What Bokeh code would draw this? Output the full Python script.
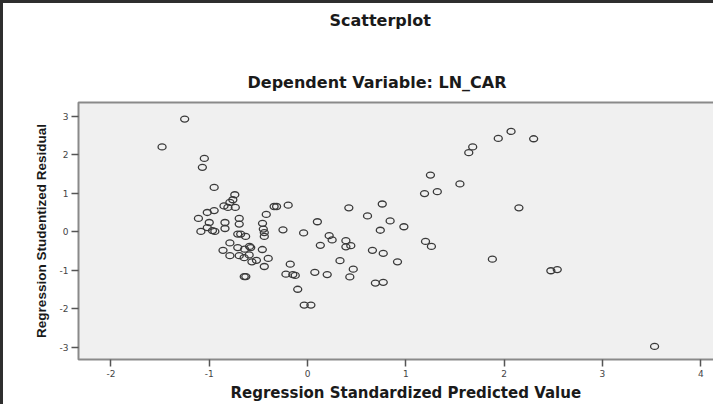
from bokeh.plotting import figure
from bokeh.models import FixedTicker, Range1d, Title
from bokeh.embed import file_html
from bokeh.resources import INLINE

# Regression standardized predicted value (x) and studentized residual (y)
pred = [-1.48, -1.25, -1.05, -1.07, -0.95, -0.74, -0.76, -0.79, -0.85, -0.81,
        -0.735, -0.95, -1.02, -1.11, -1.00, -0.84, -0.695, -0.695, -1.085, -0.967,
        -0.943, -1.02, -0.84, -0.71, -0.68, -0.63, -0.79, -0.86, -0.79, -0.71,
        -0.695, -0.64, -0.59, -0.578, -0.645, -0.594, -0.566, -0.52, -0.46, -0.40,
        -0.44, -0.644, -0.628, -0.458, -0.45, -0.44, -0.44, -0.42, -0.34, -0.315,
        -0.197, -0.25, -0.04, 0.10, -0.176, -0.22, -0.15, -0.125, -0.10, 0.074,
        0.20, 0.13, 0.22, 0.25, 0.39, 0.39, 0.44, 0.42, 0.33, 0.465,
        0.43, 0.61, 0.76, 0.74, 0.84, 0.98, 0.66, 0.77, 0.915, 0.69,
        0.77, 1.25, 1.19, 1.32, 1.20, 1.26, 2.07, 1.94, 2.30, 1.68,
        1.64, 1.55, 2.15, 1.88, 2.475, 2.54, 3.53, -0.034, 0.034]
resid = [2.20, 2.92, 1.90, 1.67, 1.15, 0.96, 0.83, 0.76, 0.67, 0.63,
         0.63, 0.55, 0.50, 0.345, 0.24, 0.24, 0.345, 0.20, 0.01, 0.03,
         0.01, 0.11, 0.085, -0.06, -0.06, -0.12, -0.29, -0.48, -0.62, -0.41,
         -0.62, -0.45, -0.38, -0.41, -0.67, -0.60, -0.78, -0.74, -0.46, -0.69,
         -0.90, -1.16, -1.16, 0.22, 0.07, -0.02, -0.12, 0.45, 0.655, 0.655,
         0.69, 0.05, -0.03, 0.26, -0.84, -1.10, -1.11, -1.13, -1.49, -1.05,
         -1.11, -0.35, -0.10, -0.21, -0.23, -0.39, -0.36, 0.62, -0.75, -0.97,
         -1.17, 0.41, 0.72, 0.04, 0.28, 0.13, -0.48, -0.56, -0.78, -1.33,
         -1.31, 1.47, 0.99, 1.04, -0.25, -0.38, 2.60, 2.42, 2.41, 2.20,
         2.05, 1.24, 0.62, -0.71, -1.01, -0.98, -2.97, -1.90, -1.90]

x_ticks = [-2, -1, 0, 1, 2, 3, 4]
y_ticks = [-3, -2, -1, 0, 1, 2, 3]

title_main = "Scatterplot"
title_sub = "Dependent Variable: LN_CAR"
x_label = "Regression Standardized Predicted Value"
y_label = "Regression Studentized Residual"

p = figure(width=713, height=404, output_backend="svg", toolbar_location=None,
           x_range=Range1d(-2.33, 4.16), y_range=Range1d(-3.31, 3.35),
           min_border_left=75, min_border_top=99, min_border_right=0,
           min_border_bottom=48)
p.styles = {"border-left": "3px solid #2e2e2e", "border-top": "3px solid #2e2e2e"}

p.background_fill_color = "#f0f0f0"
p.border_fill_color = "white"
p.outline_line_color = "#8a8a8a"
p.outline_line_width = 2
p.grid.visible = False

for ax in (p.xaxis[0], p.yaxis[0]):
    ax.axis_line_color = None
    ax.major_tick_out = 7
    ax.major_tick_in = 0
    ax.minor_tick_line_color = None
    ax.major_tick_line_color = "#555555"
    ax.major_tick_line_width = 1.5
    ax.major_label_text_font = "DejaVu Sans"
    ax.major_label_text_font_size = "9px"
    ax.major_label_text_color = "#444444"
    ax.axis_label_text_color = "#1a1a1a"
    ax.axis_label_text_font_style = "bold"

p.xaxis[0].ticker = FixedTicker(ticks=x_ticks)
p.yaxis[0].ticker = FixedTicker(ticks=y_ticks)
p.xaxis[0].major_label_overrides = {t: str(t) for t in x_ticks}
p.yaxis[0].major_label_overrides = {t: str(t) for t in y_ticks}
p.xaxis[0].major_label_standoff = 3
p.yaxis[0].major_label_standoff = 3

p.yaxis[0].axis_label = y_label
p.yaxis[0].axis_label_text_font = "Liberation Sans"
p.yaxis[0].axis_label_text_font_size = "13.5px"
p.yaxis[0].axis_label_standoff = 8

p.ellipse(x=pred, y=resid, width=8, height=6, width_units="screen",
          height_units="screen", fill_color=None, line_color="#3a3a3a",
          line_width=1.3)

def make_title(text, offset, size, standoff):
    return Title(text=text, align="left", offset=offset, text_font="DejaVu Sans",
                 text_font_size=size, text_font_style="bold",
                 text_color="#1a1a1a", standoff=standoff)

p.add_layout(make_title(title_sub, 169, "16px", 21), "above")
p.add_layout(make_title(" ", 0, "10px", 13), "above")
p.add_layout(make_title(title_main, 251, "16px", 9), "above")
p.add_layout(make_title(x_label, 152, "15px", 5), "below")

open("out.html", "w").write(file_html(p, INLINE))
